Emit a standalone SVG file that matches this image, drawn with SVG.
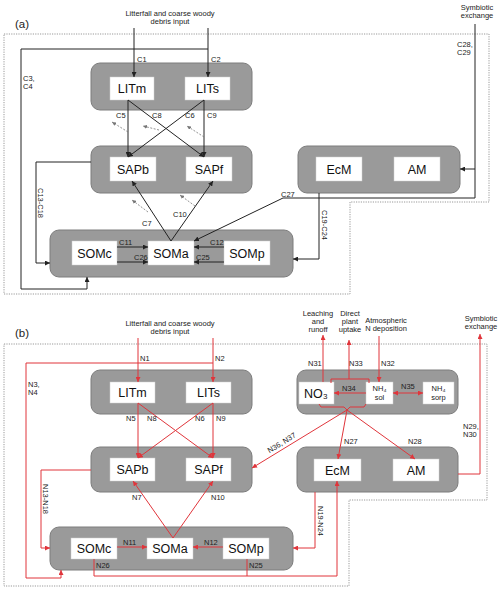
<svg xmlns="http://www.w3.org/2000/svg" width="500" height="591" viewBox="0 0 500 591">
<defs>
<marker id="ak" markerWidth="5" markerHeight="5" refX="5" refY="2.5" orient="auto" markerUnits="userSpaceOnUse"><path d="M0,0 L5,2.5 L0,5 z" fill="#222"/></marker>
<marker id="ar" markerWidth="5" markerHeight="5" refX="5" refY="2.5" orient="auto-start-reverse" markerUnits="userSpaceOnUse"><path d="M0,0 L5,2.5 L0,5 z" fill="#e0353b"/></marker>
<marker id="ag" markerWidth="4" markerHeight="4" refX="4" refY="2" orient="auto" markerUnits="userSpaceOnUse"><path d="M0,0 L4,2 L0,4 z" fill="#777"/></marker>
</defs>
<style>
.gb{fill:#9a9a9a;stroke:#7d7d7d;stroke-width:1}
.wb{fill:#fff;stroke:#d0d0d0;stroke-width:0.5}
.bl{font-family:"Liberation Sans",Arial,sans-serif;font-size:12.5px;fill:#111;text-anchor:middle}
.lb{font-family:"Liberation Sans",Arial,sans-serif;font-size:7.5px;fill:#222}
.lc{font-family:"Liberation Sans",Arial,sans-serif;font-size:7.5px;fill:#222;text-anchor:middle}
.pl{font-family:"Liberation Sans",Arial,sans-serif;font-size:11.5px;fill:#222}
.dot{fill:none;stroke:#999;stroke-width:1;stroke-dasharray:1.2 1.2}
.k{fill:none;stroke:#222;stroke-width:1;marker-end:url(#ak)}
.kn{fill:none;stroke:#222;stroke-width:1}
.r{fill:none;stroke:#e0353b;stroke-width:1;marker-end:url(#ar)}
.rn{fill:none;stroke:#e0353b;stroke-width:1}
.g{fill:none;stroke:#777;stroke-width:0.8;stroke-dasharray:2 1.5;marker-end:url(#ag)}
</style>
<rect width="500" height="591" fill="#fff"/>

<!-- Panel (a) -->
<text class="pl" x="15" y="28">(a)</text>
<polygon class="dot" points="4,34 489,34 489,202 350,202 350,294 4,294"/>
<text class="lc" x="170" y="15.5">Litterfall and coarse woody</text>
<text class="lc" x="170" y="23.5">debris input</text>
<text class="lc" x="477" y="9.5">Symbiotic</text>
<text class="lc" x="477" y="18">exchange</text>

<g id="a-lit">
<rect class="gb" x="91" y="63" width="161" height="47" rx="9"/>
<rect class="wb" x="110" y="77" width="44" height="23"/>
<text class="bl" x="132" y="93">LITm</text>
<rect class="wb" x="185" y="77" width="45" height="23"/>
<text class="bl" x="207.5" y="93">LITs</text>
</g>
<g id="a-sap">
<rect class="gb" x="91" y="146" width="161" height="47" rx="9"/>
<rect class="wb" x="110" y="157" width="46" height="24"/>
<text class="bl" x="133" y="173.5">SAPb</text>
<rect class="wb" x="186" y="157" width="46" height="24"/>
<text class="bl" x="209" y="173.5">SAPf</text>
</g>
<g id="a-myc">
<rect class="gb" x="298" y="146" width="162" height="47" rx="9"/>
<rect class="wb" x="316" y="157" width="46" height="24"/>
<text class="bl" x="339" y="173.5">EcM</text>
<rect class="wb" x="394" y="157" width="46" height="24"/>
<text class="bl" x="417" y="173.5">AM</text>
</g>
<g id="a-som">
<rect class="gb" x="50" y="230" width="243" height="47" rx="9"/>
<rect class="wb" x="72" y="241" width="45" height="24"/>
<text class="bl" x="94.5" y="257.5">SOMc</text>
<rect class="wb" x="148" y="241" width="46" height="24"/>
<text class="bl" x="171" y="257.5">SOMa</text>
<rect class="wb" x="224" y="241" width="46" height="24"/>
<text class="bl" x="247" y="257.5">SOMp</text>
</g>

<g id="a-connectors">
<path class="k" d="M134,28 V77"/>
<path class="k" d="M208,28 V77"/>
<path class="k" d="M208,49 H21 V289 H87 V277"/>
<path class="k" d="M128,100 V157"/>
<path class="k" d="M128,100 L204,157"/>
<path class="k" d="M204,100 L128,157"/>
<path class="k" d="M204,100 V157"/>
<path class="k" d="M171,241 L132,181"/>
<path class="k" d="M171,241 L213,181"/>
<path class="k" d="M91,162 H36 V263 H50"/>
<path class="k" d="M319,193 V259 H293"/>
<path class="k" d="M475,24 V169 H460"/>
<path class="k" d="M475,169 V198 H283 L194,241"/>
<path class="k" d="M117,247 H148"/>
<path class="k" d="M117,262 H148"/>
<path class="k" d="M224,247 H194"/>
<path class="k" d="M224,262 H194"/>
<path class="g" d="M128,132 L112,122"/>
<path class="g" d="M159,130 L143,126"/>
<path class="g" d="M204,137 L187,126"/>
<path class="g" d="M148,212 L132,200"/>
<path class="g" d="M195,206 L180,195"/>
<text class="lb" x="137" y="62">C1</text>
<text class="lb" x="211" y="62">C2</text>
<text class="lb" x="23" y="80.5">C3,</text>
<text class="lb" x="23" y="88.5">C4</text>
<text class="lb" x="116" y="118">C5</text>
<text class="lb" x="152" y="118">C8</text>
<text class="lb" x="185" y="118">C6</text>
<text class="lb" x="207" y="118">C9</text>
<text class="lb" x="142" y="226">C7</text>
<text class="lb" x="173" y="217">C10</text>
<text class="lb" x="119" y="245">C11</text>
<text class="lb" x="134" y="259.5">C26</text>
<text class="lb" x="210" y="245">C12</text>
<text class="lb" x="196" y="259.5">C25</text>
<text class="lb" x="281" y="196.5">C27</text>
<text class="lb" x="457" y="47">C28,</text>
<text class="lb" x="457" y="55">C29</text>
<text class="lc" transform="translate(38,203) rotate(90)">C13-C18</text>
<text class="lc" transform="translate(322,225) rotate(90)">C19-C24</text>
</g>

<!-- Panel (b) -->
<text class="pl" x="15" y="337">(b)</text>
<polygon class="dot" points="4,344 487,344 487,500 349,500 349,586 4,586"/>
<text class="lc" x="170" y="326">Litterfall and coarse woody</text>
<text class="lc" x="170" y="334">debris input</text>
<text class="lc" x="318" y="316">Leaching</text>
<text class="lc" x="318" y="324">and</text>
<text class="lc" x="318" y="331.5">runoff</text>
<text class="lc" x="350" y="316">Direct</text>
<text class="lc" x="350" y="324">plant</text>
<text class="lc" x="350" y="331.5">uptake</text>
<text class="lc" x="386" y="322.5">Atmospheric</text>
<text class="lc" x="386" y="331">N deposition</text>
<text class="lc" x="481" y="321">Symbiotic</text>
<text class="lc" x="481" y="329">exchange</text>

<g id="b-lit">
<rect class="gb" x="91" y="370" width="161" height="44" rx="9"/>
<rect class="wb" x="110" y="382" width="45" height="21"/>
<text class="bl" x="132.5" y="397">LITm</text>
<rect class="wb" x="186" y="382" width="45" height="21"/>
<text class="bl" x="208.5" y="397">LITs</text>
</g>
<g id="b-min">
<rect class="gb" x="297" y="370" width="161" height="44" rx="9"/>
<rect class="wb" x="299" y="382" width="35" height="22"/>
<text class="bl" x="316" y="398">NO₃</text>
<rect class="wb" x="366" y="382" width="27" height="22"/>
<text class="lc" x="379.5" y="391">NH₄</text>
<text class="lc" x="379.5" y="399.5">sol</text>
<rect class="wb" x="423" y="382" width="31" height="22"/>
<text class="lc" x="438.5" y="391">NH₄</text>
<text class="lc" x="438.5" y="399.5">sorp</text>
</g>
<g id="b-sap">
<rect class="gb" x="91" y="447" width="161" height="45" rx="9"/>
<rect class="wb" x="110" y="458" width="45" height="23"/>
<text class="bl" x="132.5" y="474">SAPb</text>
<rect class="wb" x="186" y="458" width="45" height="23"/>
<text class="bl" x="208.5" y="474">SAPf</text>
</g>
<g id="b-myc">
<rect class="gb" x="297" y="447" width="161" height="45" rx="9"/>
<rect class="wb" x="314" y="459" width="47" height="22"/>
<text class="bl" x="337.5" y="474.5">EcM</text>
<rect class="wb" x="393" y="459" width="46" height="22"/>
<text class="bl" x="416" y="474.5">AM</text>
</g>
<g id="b-som">
<rect class="gb" x="50" y="527" width="243" height="43" rx="9"/>
<rect class="wb" x="71" y="538" width="46" height="21"/>
<text class="bl" x="94" y="553">SOMc</text>
<rect class="wb" x="147" y="538" width="46" height="21"/>
<text class="bl" x="170" y="553">SOMa</text>
<rect class="wb" x="223" y="538" width="46" height="21"/>
<text class="bl" x="246" y="553">SOMp</text>
</g>

<g id="b-connectors">
<path class="r" d="M138,338 V382"/>
<path class="r" d="M213,338 V382"/>
<path class="r" d="M213,363 H26 V578 H61 V570"/>
<path class="r" d="M138,403 V458"/>
<path class="r" d="M138,403 L213,458"/>
<path class="r" d="M213,403 L138,458"/>
<path class="r" d="M213,403 V458"/>
<path class="r" d="M173,538 L133,481"/>
<path class="r" d="M173,538 L213,481"/>
<path class="r" d="M91,470 H41 V548 H50"/>
<path class="r" d="M117,547 H147"/>
<path class="r" d="M223,547 H193"/>
<path class="r" d="M94,559 V576 H337 V481"/>
<path class="rn" d="M247,559 V576"/>
<path class="r" d="M315,492 V548 H293"/>
<path class="r" d="M458,474 H480 V334"/>
<path class="r" d="M323,382 V335"/>
<path class="rn" d="M331,383 V379 H369 V383"/>
<path class="r" d="M349,379 V340"/>
<path class="r" d="M379,336 V382"/>
<path class="r" d="M366,393 H334"/>
<path class="r" d="M393,393 H423" marker-start="url(#ar)"/>
<path class="rn" d="M319,404 L321,407 H344 L347,410 L350,407 H364 L366,404"/>
<path class="r" d="M347,410 L252,468"/>
<path class="r" d="M347,410 L338,459"/>
<path class="r" d="M347,410 L415,459"/>
<text class="lb" x="140" y="361">N1</text>
<text class="lb" x="215" y="361">N2</text>
<text class="lb" x="28" y="387">N3,</text>
<text class="lb" x="28" y="395">N4</text>
<text class="lb" x="126" y="421">N5</text>
<text class="lb" x="147" y="421">N8</text>
<text class="lb" x="195" y="421">N6</text>
<text class="lb" x="216" y="421">N9</text>
<text class="lb" x="132" y="499.5">N7</text>
<text class="lb" x="211" y="499.5">N10</text>
<text class="lb" x="123" y="545">N11</text>
<text class="lb" x="204" y="545">N12</text>
<text class="lb" x="96" y="568">N26</text>
<text class="lb" x="249" y="568">N25</text>
<text class="lb" x="344" y="444">N27</text>
<text class="lb" x="408" y="444">N28</text>
<text class="lb" x="463" y="428.5">N29,</text>
<text class="lb" x="463" y="436.5">N30</text>
<text class="lb" x="308" y="366">N31</text>
<text class="lb" x="349" y="366">N33</text>
<text class="lb" x="381" y="366">N32</text>
<text class="lb" x="342" y="391">N34</text>
<text class="lb" x="401" y="389">N35</text>
<text class="lc" transform="translate(283,445) rotate(-31.8)">N36, N37</text>
<text class="lc" transform="translate(43,499) rotate(90)">N13-N18</text>
<text class="lc" transform="translate(318,521) rotate(90)">N19-N24</text>
</g>
</svg>
